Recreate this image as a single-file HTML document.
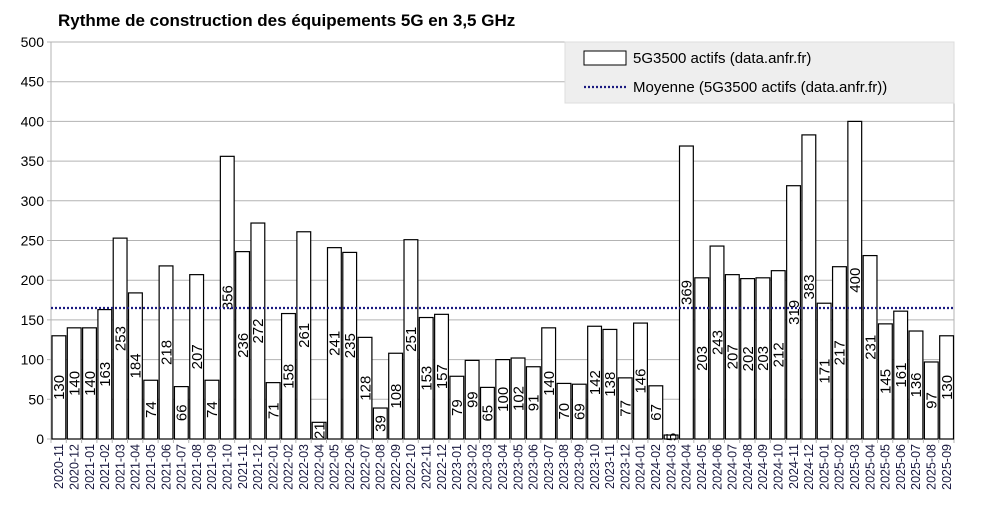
<!DOCTYPE html>
<html><head><meta charset="utf-8"><style>
html,body{margin:0;padding:0;background:#fff;width:985px;height:508px;overflow:hidden}
svg{display:block;font-family:"Liberation Sans",sans-serif}
</style></head><body>
<svg id="c" width="985" height="508" xmlns="http://www.w3.org/2000/svg">
<text x="58" y="26" font-size="17" font-weight="bold" fill="#000">Rythme de construction des équipements 5G en 3,5 GHz</text>
</svg>
<script>
const v=[130,140,140,163,253,184,74,218,66,207,74,356,236,272,71,158,261,21,241,235,128,39,108,251,153,157,79,99,65,100,102,91,140,70,69,142,138,77,146,67,5,369,203,243,207,202,203,212,319,383,171,217,400,231,145,161,136,97,130];
const svg=document.getElementById('c');
const x0=51,x1=954,y0=439,y5=42;const Y=d=>y0-(y0-y5)*d/500;const step=(x1-x0)/v.length;
let s='';
for(let t=0;t<=500;t+=50){const y=Y(t);s+=`<line x1="${x0-4}" x2="${x1}" y1="${y}" y2="${y}" stroke="#b3b3b3" stroke-width="1"/>`;
s+=`<text x="${x0-7}" y="${y+5}" font-size="14" text-anchor="end">${t}</text>`;}
s+=`<line x1="${x0}" x2="${x0}" y1="${y5}" y2="${y0}" stroke="#b3b3b3"/><line x1="${x1}" x2="${x1}" y1="${y5}" y2="${y0+4}" stroke="#b3b3b3"/>`;
let yr=2020,m=11;
v.forEach((d,i)=>{const bx=x0+i*step;const y=Y(d);
s+=`<line x1="${bx}" x2="${bx}" y1="${y0}" y2="${y0+4}" stroke="#b3b3b3"/>`;
s+=`<rect x="${bx+1}" y="${y}" width="${step-1.5}" height="${y0-y}" fill="#fff" stroke="#000" stroke-width="1.2"/>`;
const cx=bx+step/2, cy=Y(d/2);
s+=`<text transform="translate(${cx+5.5},${cy}) rotate(-90)" font-size="15" text-anchor="middle">${d}</text>`;
const lab=yr+'-'+String(m).padStart(2,'0');
s+=`<text transform="translate(${cx+4.5},${y0+5}) rotate(-90)" font-size="12.5" text-anchor="end" fill="#1a1a40">${lab}</text>`;
m++;if(m>12){m=1;yr++;}
});
s+=`<line x1="${x0}" x2="${x1}" y1="${Y(165)}" y2="${Y(165)}" stroke="#1a1a80" stroke-width="2.2" stroke-dasharray="2,2"/>`;
s+=`<rect x="565" y="42" width="389" height="61" fill="#eeeeee" stroke="#ddd"/>`;
s+=`<rect x="584" y="51" width="42" height="14" fill="#fff" stroke="#000"/>`;
s+=`<text x="633" y="63" font-size="15">5G3500 actifs (data.anfr.fr)</text>`;
s+=`<line x1="584" x2="626" y1="87" y2="87" stroke="#1a1a80" stroke-width="2.2" stroke-dasharray="2,2"/>`;
s+=`<text x="633" y="92" font-size="15">Moyenne (5G3500 actifs (data.anfr.fr))</text>`;
svg.insertAdjacentHTML('beforeend',s);
</script>
</body></html>
